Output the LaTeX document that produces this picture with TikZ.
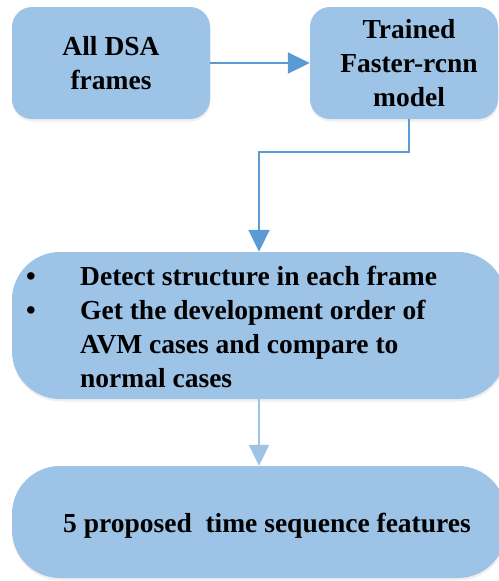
\documentclass[tikz,border=0pt]{standalone}
\usepackage{fontspec}
\setmainfont{Liberation Serif}
\usetikzlibrary{arrows.meta,shadows}
\definecolor{boxfill}{HTML}{9DC3E6}
\definecolor{linkdark}{HTML}{5B9BD5}
\definecolor{linklight}{HTML}{9DC3E6}
\tikzset{
  stage/.style={fill=boxfill, draw=none, rounded corners=20pt, inner sep=0pt,
    align=center, font=\fontsize{27.5}{34}\selectfont\bfseries,
    drop shadow={shadow xshift=0.5pt, shadow yshift=-2.5pt, opacity=0.10, fill=black!60}},
  widestage/.style={stage, rounded corners=48pt},
  txt/.style={inner sep=0pt, anchor=base west, font=\fontsize{27.5}{34}\selectfont\bfseries},
  link/.style={draw=linkdark, line width=2pt,
    -{Triangle[length=22pt,width=21pt]}},
  lightlink/.style={draw=linklight, line width=2pt,
    -{Triangle[length=21pt,width=20pt]}}
}
\begin{document}
\begin{tikzpicture}[x=1pt,y=-1pt]
\useasboundingbox (0,0) rectangle (498,581);
% upper row
\node[stage, minimum width=198pt, minimum height=112pt] (frames) at (111,63)
  {All DSA\\frames};
\node[stage, minimum width=188pt, minimum height=112pt] (model) at (404,63)
  {\hspace*{10pt}Trained\\\hspace*{10pt}Faster-rcnn\\\hspace*{10pt}model};
% detection stage
\node[widestage, minimum width=494pt, minimum height=147pt] (detect) at (259,325.5) {};
\node[txt] (b1) at (26,285) {\textbullet};
\node[txt] (b2) at (26,319) {\textbullet};
\node[txt] (l1) at (80,285) {Detect structure in each frame};
\node[txt] (l2) at (80,319) {Get the development order of};
\node[txt] (l3) at (80,353) {AVM cases and compare to};
\node[txt] (l4) at (80,387) {normal cases};
% result stage
\node[widestage, minimum width=494pt, minimum height=112pt] (features) at (259,522) {};
\node[txt, anchor=base] (ftext) at (267,532) {5 proposed\ \ time sequence features};
% connectors
\coordinate (bend1) at (409,152);
\coordinate (bend2) at (259,152);
\draw[link] (frames.east) -- (model.west);
\draw[link] (model.south -| bend1) -- (bend1) -- (bend2) -- (detect.north);
\draw[lightlink] (detect.south) -- (features.north);
\end{tikzpicture}
\end{document}
